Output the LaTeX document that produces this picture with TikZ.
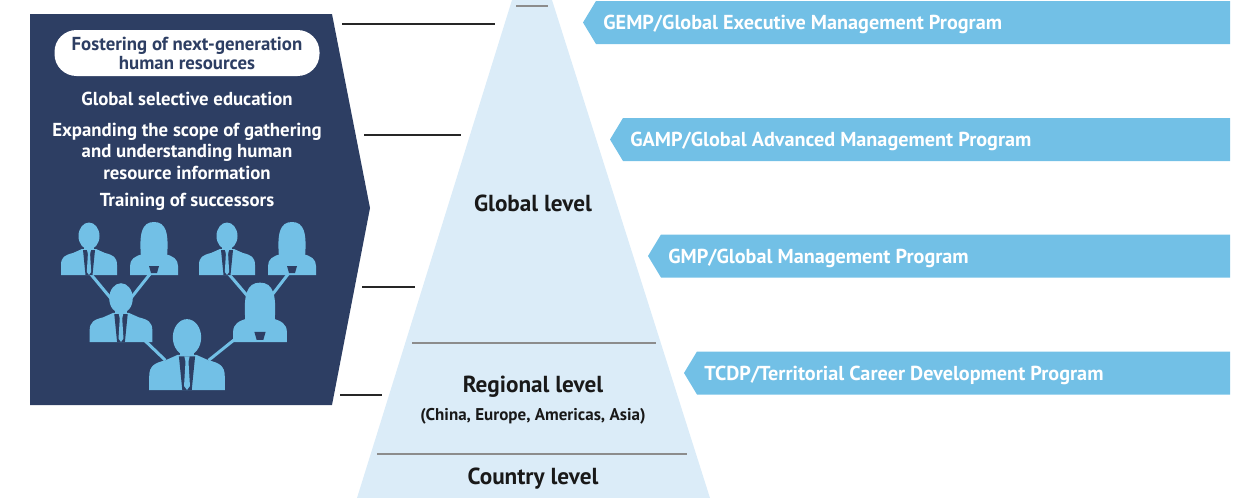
\documentclass[tikz,border=0pt]{standalone}
\usepackage{fontspec}
\setmainfont{PT Sans}
\usetikzlibrary{positioning}
\definecolor{navy}{HTML}{2D3E63}
\definecolor{skyblue}{HTML}{72C0E6}
\definecolor{paleblue}{HTML}{DBECF8}
\pgfdeclarelayer{bg}
\pgfdeclarelayer{links}
\pgfsetlayers{bg,links,main}
\tikzset{
  people/.style={fill=skyblue},
  suit/.style={fill=navy},
  man/.pic={
    \fill[people] (0,-39) ellipse (10.5 and 13.5);
    \fill[people] (-5,-32) rectangle (5,-22);
    \fill[people] (-28,0) -- (-28,-10) .. controls (-28,-18) and (-24,-20) .. (-16,-22)
      -- (-7,-26) -- (7,-26) -- (16,-22) .. controls (24,-20) and (28,-18) .. (28,-10)
      -- (28,0) -- cycle;
    \fill[suit] (-6,-25) -- (6,-25) -- (3.5,0) -- (-3.5,0) -- cycle;
    \fill[people] (-2,-25) -- (2,-25) -- (1.1,-21) -- (2.2,-3) -- (0,0) -- (-2.2,-3)
      -- (-1.1,-21) -- cycle;
    \coordinate (-neck) at (0,-28);
    \coordinate (-base) at (0,-3);
    \coordinate (-left) at (-8,-14);
    \coordinate (-right) at (8,-14);
    \coordinate (-lshoulder) at (-16,-22);
    \coordinate (-rshoulder) at (16,-22);
  },
  woman/.pic={
    \fill[people] (-13,-18) .. controls (-15,-42) and (-12,-53) .. (0,-53)
      .. controls (12,-53) and (15,-42) .. (13,-18) -- cycle;
    \fill[people] (-24,0) -- (-24,-9) .. controls (-24,-16) and (-19,-19) .. (-11,-21)
      -- (11,-21) .. controls (19,-19) and (24,-16) .. (24,-9) -- (24,0) -- cycle;
    \fill[suit] (-5,-9) -- (5,-9) -- (3,-2) -- (-3,-2) -- cycle;
    \coordinate (-neck) at (0,-28);
    \coordinate (-notch) at (0,-6);
    \coordinate (-left) at (-8,-14);
    \coordinate (-right) at (8,-14);
  },
}

\begin{document}
\begin{tikzpicture}[x=0.5pt,y=-0.5pt]
    \tikzstyle{leader}=[draw=black!85, line width=0.75pt]
    \tikzstyle{divider}=[draw=black!45, line width=0.7pt]
    \tikzstyle{banner}=[fill=skyblue]
    \tikzstyle{banner text}=[anchor=base west, inner sep=0pt, text=white, font=\fontsize{10.1}{12}\selectfont\bfseries]
    \tikzstyle{level}=[anchor=base, inner sep=0pt, text=black!90, font=\fontsize{11.6}{13}\selectfont\bfseries]
    \tikzstyle{white text}=[align=center, inner sep=0pt, text=white, font=\fontsize{9.4}{10.75}\selectfont\bfseries]
    \tikzstyle{pill}=[fill=white, rounded corners=11pt, minimum width=132.5pt, minimum height=23pt,
        align=center, inner sep=0pt, text=navy, font=\fontsize{9.4}{9.5}\selectfont\bfseries]
    \tikzstyle{link}=[draw=skyblue, line width=1.5pt]

    \useasboundingbox (0,0) rectangle (1239,498);

    % Draw the dark panel with its pointed right side
    \begin{pgfonlayer}{bg}
        \fill[navy] (30,14) -- (332,14) -- (370,208) -- (332,405) -- (30,405) -- cycle;
    \end{pgfonlayer}

    \node[pill] (foster) at (187,53) {Fostering of next-generation\\human resources};
    \node[white text, anchor=base] (select) at (187,105) {Global selective education};
    \node[white text] (expand) at (187,151) {Expanding the scope of gathering\\and understanding human\\resource information};
    \node[white text, anchor=base] (train) at (187,206) {Training of successors};

    % Draw the people: four on top, two in the middle, one at the bottom
    \foreach \name/\shape/\x in {m1/man/89, w1/woman/154, m2/man/227, w2/woman/292}
        \pic (\name) at (\x,275) {\shape};
    \pic[scale=1.12] (mm) at (121,342) {man};
    \pic[scale=1.12] (mw) at (260,342) {woman};
    \pic[scale=1.35] (bm) at (187,390) {man};

    % Connect each pair to the person below
    \begin{pgfonlayer}{links}
        \draw[link] (m1-base) -- (mm-neck);
        \draw[link] (w1-notch) -- (mm-neck);
        \draw[link] (m2-base) -- (mw-neck);
        \draw[link] (w2-notch) -- (mw-neck);
        \draw[link] (mm-right) -- (bm-lshoulder);
        \draw[link] (mw-left) -- (bm-rshoulder);
    \end{pgfonlayer}

    % Draw the pyramid
    \fill[paleblue] (512,0) -- (552,0) -- (710,498) -- (357,498) -- cycle;
    \foreach \name/\y/\xa/\xb in {top/6/516/548, reg/343/412/656, ctry/454/377/687}
    {
        \coordinate (\name-a) at (\xa,\y);
        \coordinate (\name-b) at (\xb,\y);
        \draw[divider] (\name-a) -- (\name-b);
    }
    \node[level] (global) at (533,211) {Global level};
    \node[level] (regional) at (533,392) {Regional level};
    \node[level, font=\fontsize{8.5}{10}\selectfont\bfseries] (areas) at (533,420) {(China, Europe, Americas, Asia)};
    \node[level] (country) at (533,484) {Country level};

    % Leader lines between panel and pyramid
    \foreach \i/\y/\xa/\xb in {1/24/342/495, 2/135/364/461, 3/287/362/415, 4/395/340/382}
    {
        \coordinate (lead\i-a) at (\xa,\y);
        \coordinate (lead\i-b) at (\xb,\y);
        \draw[leader] (lead\i-a) -- (lead\i-b);
    }

    % Draw the program banners
    \foreach \name/\y/\tip/\txt in {gemp/22.5/583/{GEMP/Global Executive Management Program},
                                    gamp/139.5/610/{GAMP/Global Advanced Management Program},
                                    gmp/256/648/{GMP/Global Management Program},
                                    tcdp/373/684/{TCDP/Territorial Career Development Program}}
    {
        \fill[banner] (\tip,\y) -- (\tip+13,\y-21.5) -- (1230,\y-21.5) -- (1230,\y+21.5) -- (\tip+13,\y+21.5) -- cycle;
        \node[banner text] (\name) at (\tip+20,\y+7) {\txt};
    }
\end{tikzpicture}
\end{document}
